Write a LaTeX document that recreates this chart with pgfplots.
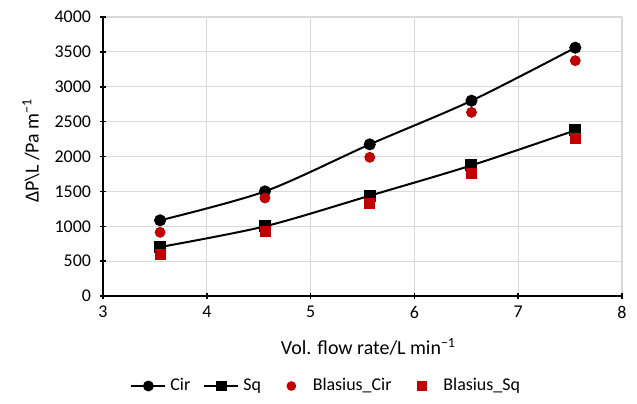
\documentclass[border=0pt]{standalone}
\usepackage{pgfplots}
\pgfplotsset{compat=1.18}
\usepackage{fontspec}
\setmainfont{Carlito}
\definecolor{bred}{HTML}{C00000}
\definecolor{gridgray}{HTML}{D9D9D9}
\pgfplotsset{wide mark legend/.style={legend image code/.code={\path (0cm,0cm) (0.6cm,0cm); \draw[##1] plot coordinates {(0.3cm,0cm)};}}}
\begin{document}
\begin{tikzpicture}
\begin{axis}[
  scale only axis,
  width=259.5bp, height=139.5bp,
  xmin=3, xmax=8, ymin=0, ymax=4000,
  xtick={3,4,5,6,7,8}, ytick={0,500,...,4000},
  /pgf/number format/assume math mode=true,
  /pgf/number format/1000 sep={},
  ticklabel style={font=\fontsize{9}{10}\selectfont},
  yticklabel style={xshift=-1bp},
  axis x line*=bottom, axis y line*=left,
  axis line style={-, black, line width=0.75bp},
  tick align=center, major tick length=3bp,
  tick style={black, line width=0.75bp},
  grid=major,
  major grid style={gridgray, line width=0.6bp},
  xlabel={Vol. flow rate/L min\textsuperscript{−1}},
  ylabel={ΔP\textbackslash L /Pa m\textsuperscript{−1}},
  label style={font=\fontsize{10.7}{12}\selectfont},
  every axis x label/.style={at={(axis description cs:0.5,0)}, yshift=-25.5bp, xshift=3bp, anchor=center},
  every axis y label/.style={at={(axis description cs:0,0.5)}, xshift=-36bp, yshift=3bp, rotate=90, anchor=center},
  legend style={at={(axis description cs:0.432,0)}, yshift=-45bp, anchor=center,
    draw=none, font=\fontsize{9}{10}\selectfont, legend columns=4,
    /tikz/every even column/.append style={column sep=4.5bp}},
  legend image post style={mark size=2.2bp},
]
\addplot[black, line width=1bp, smooth, mark=*, mark size=2.5bp, mark options={fill=black}] coordinates {
(3.55,1085) (4.56,1500) (5.57,2174) (6.55,2800) (7.55,3560)};
\addlegendentry{Cir}
\addplot[black, line width=1bp, smooth, mark=square*, mark size=2.5bp, mark options={fill=black}] coordinates {
(3.55,702) (4.56,999) (5.57,1438) (6.55,1873) (7.55,2375)};
\addlegendentry{Sq}
\addplot[only marks, bred, mark=*, mark size=2.5bp, mark options={fill=bred, draw=bred}, wide mark legend] coordinates {
(3.55,913) (4.56,1405) (5.57,1988) (6.55,2633) (7.55,3374)};
\addlegendentry{Blasius\_Cir}
\addplot[only marks, bred, mark=square*, mark size=2.5bp, mark options={fill=bred, draw=bred}, wide mark legend] coordinates {
(3.55,597) (4.56,932) (5.57,1324) (6.55,1754) (7.55,2256)};
\addlegendentry{Blasius\_Sq}
\end{axis}
\pgfresetboundingbox
\useasboundingbox (-51.5bp,-54bp) rectangle (267bp,148bp);
\end{tikzpicture}
\end{document}
